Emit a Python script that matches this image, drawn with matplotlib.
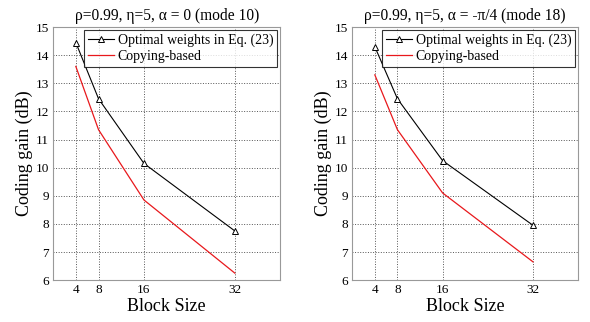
import matplotlib
matplotlib.use('Agg')
import matplotlib.pyplot as plt

#----------Data----------#

block_sizes = [4, 8, 16, 32]

optimal_mode10 = [14.45, 12.45, 10.15, 7.75]
copying_mode10 = [13.6, 11.35, 8.85, 6.25]

optimal_mode18 = [14.3, 12.45, 10.25, 7.95]
copying_mode18 = [13.3, 11.35, 9.1, 6.65]

titles = [r'ρ=0.99, η=5, α = 0 (mode 10)', r'ρ=0.99, η=5, α = -π/4 (mode 18)']

#----------Plot----------#

plt.rcParams['font.family'] = ['Liberation Serif', 'DejaVu Serif']

fig = plt.figure(figsize=(5.9, 3.22), dpi=100)
ax1 = fig.add_axes([0.09, 0.13, 0.385, 0.786])
ax2 = fig.add_axes([0.597, 0.13, 0.383, 0.786])

for ax, opt, cop, title in [(ax1, optimal_mode10, copying_mode10, titles[0]),
                            (ax2, optimal_mode18, copying_mode18, titles[1])]:
    ax.plot(block_sizes, opt, color='black', linewidth=0.8, marker='^',
            markersize=4.5, markerfacecolor='white', markeredgecolor='black',
            markeredgewidth=0.7, label='Optimal weights in Eq. (23)')
    ax.plot(block_sizes, cop, color='#e8181c', linewidth=0.9, label='Copying-based')
    ax.set_xlim(0, 40)
    ax.set_ylim(6, 15)
    ax.set_xticks(block_sizes)
    ax.set_yticks(range(6, 16))
    ax.grid(True, linestyle=':', color='#555555', linewidth=0.7)
    ax.tick_params(labelsize=9.5, length=0, pad=3)
    for spine in ax.spines.values():
        spine.set_color('#999999')
        spine.set_linewidth(0.8)
    ax.set_title(title, fontsize=11.2, pad=5)
    ax.set_xlabel('Block Size', fontsize=13, labelpad=1)
    ax.set_ylabel('Coding gain (dB)', fontsize=13, labelpad=2)
    leg = ax.legend(loc='upper right', fontsize=10, frameon=True, fancybox=False,
                    borderpad=0.3, handlelength=1.9, handletextpad=0.25,
                    labelspacing=0.15, borderaxespad=0.2)
    leg.get_frame().set_edgecolor('black')
    leg.get_frame().set_linewidth(0.8)

plt.savefig('out.png', dpi=100)
